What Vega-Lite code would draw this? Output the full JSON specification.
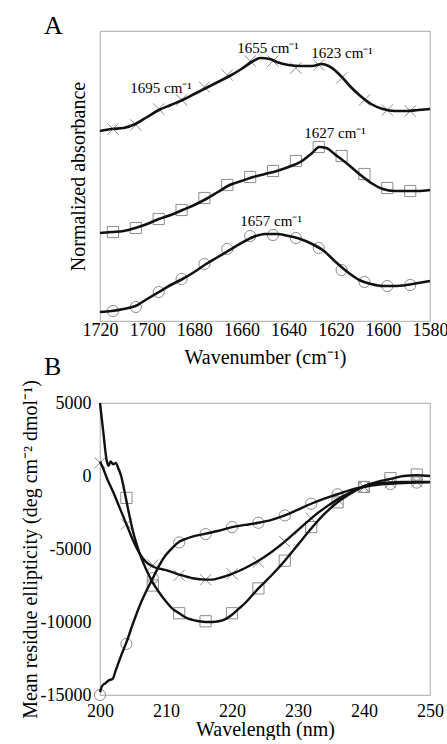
{
  "$schema": "https://vega.github.io/schema/vega-lite/v6.json",
  "padding": {"left": 19, "top": 12, "right": 0, "bottom": 0},
  "background": "white",
  "config": {
    "font": "Liberation Serif",
    "view": {"stroke": "#bbbbbb", "strokeWidth": 1.2},
    "axis": {"grid": false, "domain": false, "ticks": false, "tickSize": 0, "labelOverlap": false, "labelFlush": false, "labelBound": false, "labelFont": "Liberation Serif", "titleFont": "Liberation Serif", "labelFontSize": 18, "titleFontSize": 20, "titleFontWeight": "normal", "labelColor": "#000", "titleColor": "#000"},
    "title": {"font": "Liberation Serif", "fontSize": 26, "fontWeight": "normal", "anchor": "start", "frame": "group", "color": "#000", "baseline": "alphabetic"}
  },
  "bounds": "flush",
  "spacing": 82,
  "datasets": {
    "ftirLine": [
      {"s": "x", "wn": 1720, "a": 190}, {"s": "x", "wn": 1715, "a": 192}, {"s": "x", "wn": 1710, "a": 193}, {"s": "x", "wn": 1705, "a": 197}, {"s": "x", "wn": 1700, "a": 204}, {"s": "x", "wn": 1695, "a": 211}, {"s": "x", "wn": 1690, "a": 216}, {"s": "x", "wn": 1685, "a": 221}, {"s": "x", "wn": 1680, "a": 227}, {"s": "x", "wn": 1675, "a": 233}, {"s": "x", "wn": 1670, "a": 239}, {"s": "x", "wn": 1665, "a": 245}, {"s": "x", "wn": 1660, "a": 252}, {"s": "x", "wn": 1655, "a": 260}, {"s": "x", "wn": 1652, "a": 263}, {"s": "x", "wn": 1648, "a": 262}, {"s": "x", "wn": 1645, "a": 259}, {"s": "x", "wn": 1640, "a": 256}, {"s": "x", "wn": 1635, "a": 255}, {"s": "x", "wn": 1630, "a": 255}, {"s": "x", "wn": 1626, "a": 257}, {"s": "x", "wn": 1623, "a": 255}, {"s": "x", "wn": 1620, "a": 250}, {"s": "x", "wn": 1617, "a": 243}, {"s": "x", "wn": 1614, "a": 235}, {"s": "x", "wn": 1610, "a": 226}, {"s": "x", "wn": 1605, "a": 217}, {"s": "x", "wn": 1600, "a": 212}, {"s": "x", "wn": 1595, "a": 210}, {"s": "x", "wn": 1590, "a": 210}, {"s": "x", "wn": 1585, "a": 211}, {"s": "x", "wn": 1580, "a": 212},
      {"s": "sq", "wn": 1720, "a": 88}, {"s": "sq", "wn": 1715, "a": 89}, {"s": "sq", "wn": 1710, "a": 90}, {"s": "sq", "wn": 1705, "a": 93}, {"s": "sq", "wn": 1700, "a": 97}, {"s": "sq", "wn": 1695, "a": 102}, {"s": "sq", "wn": 1690, "a": 106}, {"s": "sq", "wn": 1685, "a": 111}, {"s": "sq", "wn": 1680, "a": 116}, {"s": "sq", "wn": 1675, "a": 122}, {"s": "sq", "wn": 1670, "a": 129}, {"s": "sq", "wn": 1665, "a": 136}, {"s": "sq", "wn": 1660, "a": 140}, {"s": "sq", "wn": 1655, "a": 144}, {"s": "sq", "wn": 1650, "a": 147}, {"s": "sq", "wn": 1645, "a": 150}, {"s": "sq", "wn": 1640, "a": 154}, {"s": "sq", "wn": 1635, "a": 159}, {"s": "sq", "wn": 1630, "a": 168}, {"s": "sq", "wn": 1627, "a": 174}, {"s": "sq", "wn": 1624, "a": 173}, {"s": "sq", "wn": 1620, "a": 166}, {"s": "sq", "wn": 1615, "a": 157}, {"s": "sq", "wn": 1610, "a": 147}, {"s": "sq", "wn": 1605, "a": 138}, {"s": "sq", "wn": 1600, "a": 132}, {"s": "sq", "wn": 1595, "a": 130}, {"s": "sq", "wn": 1590, "a": 130}, {"s": "sq", "wn": 1585, "a": 130}, {"s": "sq", "wn": 1580, "a": 131},
      {"s": "o", "wn": 1720, "a": 9}, {"s": "o", "wn": 1715, "a": 10}, {"s": "o", "wn": 1710, "a": 12}, {"s": "o", "wn": 1705, "a": 15}, {"s": "o", "wn": 1700, "a": 22}, {"s": "o", "wn": 1695, "a": 29}, {"s": "o", "wn": 1690, "a": 36}, {"s": "o", "wn": 1685, "a": 42}, {"s": "o", "wn": 1680, "a": 49}, {"s": "o", "wn": 1675, "a": 57}, {"s": "o", "wn": 1670, "a": 64}, {"s": "o", "wn": 1665, "a": 71}, {"s": "o", "wn": 1660, "a": 78}, {"s": "o", "wn": 1655, "a": 84}, {"s": "o", "wn": 1650, "a": 87}, {"s": "o", "wn": 1645, "a": 87}, {"s": "o", "wn": 1640, "a": 85}, {"s": "o", "wn": 1635, "a": 82}, {"s": "o", "wn": 1630, "a": 77}, {"s": "o", "wn": 1625, "a": 70}, {"s": "o", "wn": 1620, "a": 59}, {"s": "o", "wn": 1615, "a": 49}, {"s": "o", "wn": 1610, "a": 41}, {"s": "o", "wn": 1605, "a": 37}, {"s": "o", "wn": 1600, "a": 35}, {"s": "o", "wn": 1595, "a": 35}, {"s": "o", "wn": 1590, "a": 36}, {"s": "o", "wn": 1585, "a": 38}, {"s": "o", "wn": 1580, "a": 40}
    ],
    "ftirPts": [
      {"s": "x", "wn": 1714.5, "a": 192}, {"s": "x", "wn": 1704.8, "a": 196}, {"s": "x", "wn": 1695.1, "a": 212}, {"s": "x", "wn": 1685.4, "a": 221}, {"s": "x", "wn": 1675.7, "a": 234}, {"s": "x", "wn": 1666, "a": 246}, {"s": "x", "wn": 1656.3, "a": 260}, {"s": "x", "wn": 1646.6, "a": 260}, {"s": "x", "wn": 1636.9, "a": 253}, {"s": "x", "wn": 1627.2, "a": 256}, {"s": "x", "wn": 1617.5, "a": 243}, {"s": "x", "wn": 1607.8, "a": 221}, {"s": "x", "wn": 1598.1, "a": 211}, {"s": "x", "wn": 1588.4, "a": 210},
      {"s": "sq", "wn": 1714.5, "a": 89}, {"s": "sq", "wn": 1704.8, "a": 93}, {"s": "sq", "wn": 1695.1, "a": 102}, {"s": "sq", "wn": 1685.4, "a": 111}, {"s": "sq", "wn": 1675.7, "a": 123}, {"s": "sq", "wn": 1666, "a": 136}, {"s": "sq", "wn": 1656.3, "a": 144}, {"s": "sq", "wn": 1646.6, "a": 150}, {"s": "sq", "wn": 1636.9, "a": 160}, {"s": "sq", "wn": 1627.2, "a": 174}, {"s": "sq", "wn": 1617.5, "a": 165}, {"s": "sq", "wn": 1607.8, "a": 147}, {"s": "sq", "wn": 1598.1, "a": 133}, {"s": "sq", "wn": 1588.4, "a": 130},
      {"s": "o", "wn": 1714.5, "a": 10}, {"s": "o", "wn": 1704.8, "a": 14}, {"s": "o", "wn": 1695.1, "a": 29}, {"s": "o", "wn": 1685.4, "a": 42}, {"s": "o", "wn": 1675.7, "a": 57}, {"s": "o", "wn": 1666, "a": 72}, {"s": "o", "wn": 1656.3, "a": 85}, {"s": "o", "wn": 1646.6, "a": 86}, {"s": "o", "wn": 1636.9, "a": 83}, {"s": "o", "wn": 1627.2, "a": 73}, {"s": "o", "wn": 1617.5, "a": 51}, {"s": "o", "wn": 1607.8, "a": 39}, {"s": "o", "wn": 1598.1, "a": 35}, {"s": "o", "wn": 1588.4, "a": 36}
    ],
    "ftirLabels": [
      {"t": "1695 cm⁻¹", "wn": 1694.1, "a": 228},
      {"t": "1655 cm⁻¹", "wn": 1648.7, "a": 268},
      {"t": "1623 cm⁻¹", "wn": 1617.3, "a": 263},
      {"t": "1627 cm⁻¹", "wn": 1620.3, "a": 183},
      {"t": "1657 cm⁻¹", "wn": 1647.4, "a": 95}
    ],
    "cdLine": [
      {"s": "sq", "w": 200, "e": 5000}, {"s": "sq", "w": 200.5, "e": 3000}, {"s": "sq", "w": 201, "e": 1100}, {"s": "sq", "w": 201.3, "e": 700}, {"s": "sq", "w": 201.6, "e": 1000}, {"s": "sq", "w": 202, "e": 800}, {"s": "sq", "w": 202.4, "e": 900}, {"s": "sq", "w": 202.8, "e": 500}, {"s": "sq", "w": 203.2, "e": 0}, {"s": "sq", "w": 203.6, "e": -800}, {"s": "sq", "w": 204, "e": -1700}, {"s": "sq", "w": 204.5, "e": -2800}, {"s": "sq", "w": 205, "e": -3800}, {"s": "sq", "w": 205.5, "e": -4600}, {"s": "sq", "w": 206, "e": -5300}, {"s": "sq", "w": 207, "e": -6400}, {"s": "sq", "w": 208, "e": -7300}, {"s": "sq", "w": 209, "e": -8000}, {"s": "sq", "w": 210, "e": -8600}, {"s": "sq", "w": 211, "e": -9100}, {"s": "sq", "w": 212, "e": -9400}, {"s": "sq", "w": 213, "e": -9700}, {"s": "sq", "w": 214, "e": -9850}, {"s": "sq", "w": 215, "e": -9950}, {"s": "sq", "w": 216, "e": -10000}, {"s": "sq", "w": 217, "e": -10000}, {"s": "sq", "w": 218, "e": -9950}, {"s": "sq", "w": 219, "e": -9800}, {"s": "sq", "w": 220, "e": -9500}, {"s": "sq", "w": 221, "e": -9100}, {"s": "sq", "w": 222, "e": -8700}, {"s": "sq", "w": 223, "e": -8200}, {"s": "sq", "w": 224, "e": -7700}, {"s": "sq", "w": 226, "e": -6800}, {"s": "sq", "w": 228, "e": -5800}, {"s": "sq", "w": 230, "e": -4700}, {"s": "sq", "w": 232, "e": -3600}, {"s": "sq", "w": 234, "e": -2600}, {"s": "sq", "w": 236, "e": -1800}, {"s": "sq", "w": 238, "e": -1200}, {"s": "sq", "w": 240, "e": -700}, {"s": "sq", "w": 242, "e": -400}, {"s": "sq", "w": 244, "e": -200}, {"s": "sq", "w": 246, "e": 0}, {"s": "sq", "w": 248, "e": 50}, {"s": "sq", "w": 250, "e": 0},
      {"s": "x", "w": 200, "e": 1000}, {"s": "x", "w": 200.5, "e": 500}, {"s": "x", "w": 201, "e": -100}, {"s": "x", "w": 202, "e": -1100}, {"s": "x", "w": 203, "e": -2200}, {"s": "x", "w": 204, "e": -3300}, {"s": "x", "w": 205, "e": -4400}, {"s": "x", "w": 206, "e": -5300}, {"s": "x", "w": 207, "e": -5900}, {"s": "x", "w": 208, "e": -6200}, {"s": "x", "w": 209, "e": -6350}, {"s": "x", "w": 210, "e": -6450}, {"s": "x", "w": 212, "e": -6750}, {"s": "x", "w": 214, "e": -7000}, {"s": "x", "w": 216, "e": -7100}, {"s": "x", "w": 217, "e": -7100}, {"s": "x", "w": 218, "e": -7000}, {"s": "x", "w": 220, "e": -6700}, {"s": "x", "w": 222, "e": -6300}, {"s": "x", "w": 224, "e": -5800}, {"s": "x", "w": 226, "e": -5200}, {"s": "x", "w": 228, "e": -4500}, {"s": "x", "w": 230, "e": -3700}, {"s": "x", "w": 232, "e": -2900}, {"s": "x", "w": 234, "e": -2200}, {"s": "x", "w": 236, "e": -1600}, {"s": "x", "w": 238, "e": -1100}, {"s": "x", "w": 240, "e": -700}, {"s": "x", "w": 242, "e": -500}, {"s": "x", "w": 244, "e": -450}, {"s": "x", "w": 246, "e": -400}, {"s": "x", "w": 248, "e": -400}, {"s": "x", "w": 250, "e": -400},
      {"s": "o", "w": 200, "e": -14800}, {"s": "o", "w": 200.3, "e": -14400}, {"s": "o", "w": 200.8, "e": -14200}, {"s": "o", "w": 201.3, "e": -14000}, {"s": "o", "w": 201.9, "e": -13900}, {"s": "o", "w": 202.4, "e": -13300}, {"s": "o", "w": 203.2, "e": -12300}, {"s": "o", "w": 204, "e": -11400}, {"s": "o", "w": 205, "e": -10100}, {"s": "o", "w": 206, "e": -8900}, {"s": "o", "w": 207, "e": -7900}, {"s": "o", "w": 208, "e": -7000}, {"s": "o", "w": 209, "e": -6100}, {"s": "o", "w": 210, "e": -5400}, {"s": "o", "w": 211, "e": -4900}, {"s": "o", "w": 212, "e": -4500}, {"s": "o", "w": 213, "e": -4300}, {"s": "o", "w": 214, "e": -4150}, {"s": "o", "w": 216, "e": -3950}, {"s": "o", "w": 218, "e": -3750}, {"s": "o", "w": 220, "e": -3500}, {"s": "o", "w": 222, "e": -3350}, {"s": "o", "w": 224, "e": -3200}, {"s": "o", "w": 226, "e": -3000}, {"s": "o", "w": 228, "e": -2700}, {"s": "o", "w": 230, "e": -2300}, {"s": "o", "w": 232, "e": -1900}, {"s": "o", "w": 234, "e": -1550}, {"s": "o", "w": 236, "e": -1250}, {"s": "o", "w": 238, "e": -950}, {"s": "o", "w": 240, "e": -750}, {"s": "o", "w": 242, "e": -600}, {"s": "o", "w": 244, "e": -530}, {"s": "o", "w": 246, "e": -480}, {"s": "o", "w": 248, "e": -450}, {"s": "o", "w": 250, "e": -430}
    ],
    "cdPts": [
      {"s": "x", "w": 200, "e": 900}, {"s": "x", "w": 204, "e": -3300}, {"s": "x", "w": 208, "e": -6100}, {"s": "x", "w": 212, "e": -6800}, {"s": "x", "w": 216, "e": -7100}, {"s": "x", "w": 220, "e": -6700}, {"s": "x", "w": 224, "e": -5900}, {"s": "x", "w": 228, "e": -4500}, {"s": "x", "w": 232, "e": -2900}, {"s": "x", "w": 236, "e": -1600}, {"s": "x", "w": 240, "e": -750}, {"s": "x", "w": 244, "e": -450}, {"s": "x", "w": 248, "e": -400},
      {"s": "sq", "w": 204, "e": -1500}, {"s": "sq", "w": 208, "e": -7500}, {"s": "sq", "w": 212, "e": -9400}, {"s": "sq", "w": 216, "e": -9950}, {"s": "sq", "w": 220, "e": -9400}, {"s": "sq", "w": 224, "e": -7700}, {"s": "sq", "w": 228, "e": -5800}, {"s": "sq", "w": 232, "e": -3500}, {"s": "sq", "w": 236, "e": -1800}, {"s": "sq", "w": 240, "e": -750}, {"s": "sq", "w": 244, "e": -150}, {"s": "sq", "w": 248, "e": 100},
      {"s": "o", "w": 200, "e": -15000}, {"s": "o", "w": 204, "e": -11500}, {"s": "o", "w": 208, "e": -7000}, {"s": "o", "w": 212, "e": -4550}, {"s": "o", "w": 216, "e": -3980}, {"s": "o", "w": 220, "e": -3500}, {"s": "o", "w": 224, "e": -3200}, {"s": "o", "w": 228, "e": -2700}, {"s": "o", "w": 232, "e": -1900}, {"s": "o", "w": 236, "e": -1250}, {"s": "o", "w": 240, "e": -750}, {"s": "o", "w": 244, "e": -550}, {"s": "o", "w": 248, "e": -450}
    ]
  },
  "vconcat": [
    {
      "width": 330,
      "height": 290,
      "title": {"text": "A", "dx": -56, "offset": -8, "fontSize": 26, "font": "Liberation Serif", "fontWeight": "normal"},
      "layer": [
        {
          "data": {"name": "ftirPts"},
          "mark": {"type": "point", "filled": false, "stroke": "#8c8c8c", "strokeWidth": 1, "size": 125, "opacity": 1},
          "encoding": {
            "x": {"field": "wn", "type": "quantitative", "scale": {"domain": [1580, 1720], "reverse": true, "nice": false}, "axis": {"values": [1720, 1700, 1680, 1660, 1640, 1620, 1600, 1580], "format": "d", "title": "Wavenumber (cm⁻¹)", "labelBaseline": "alphabetic", "labelPadding": 14, "titleBaseline": "alphabetic", "titleY": 42}},
            "y": {"field": "a", "type": "quantitative", "scale": {"domain": [0, 290], "nice": false}, "axis": {"labels": false, "title": "Normalized absorbance", "titleBaseline": "alphabetic", "titleX": -16}},
            "shape": {"field": "s", "type": "nominal", "legend": null, "scale": {"domain": ["x", "sq", "o"], "range": ["M-1,-1L1,1M1,-1L-1,1", "square", "circle"]}}
          }
        },
        {
          "data": {"name": "ftirLine"},
          "mark": {"type": "line", "interpolate": "monotone", "color": "#111", "strokeWidth": 2.6},
          "encoding": {
            "x": {"field": "wn", "type": "quantitative"},
            "y": {"field": "a", "type": "quantitative"},
            "detail": {"field": "s"}
          }
        },
        {
          "data": {"name": "ftirLabels"},
          "mark": {"type": "text", "fontSize": 15, "baseline": "alphabetic", "align": "center", "color": "#000", "font": "Liberation Serif"},
          "encoding": {
            "x": {"field": "wn", "type": "quantitative"},
            "y": {"field": "a", "type": "quantitative"},
            "text": {"field": "t"}
          }
        }
      ]
    },
    {
      "width": 330,
      "height": 292,
      "title": {"text": "B", "dx": -56, "offset": 0, "fontSize": 26, "font": "Liberation Serif", "fontWeight": "normal"},
      "layer": [
        {
          "data": {"name": "cdPts"},
          "mark": {"type": "point", "filled": false, "stroke": "#8c8c8c", "strokeWidth": 1, "size": 125, "opacity": 1},
          "encoding": {
            "x": {"field": "w", "type": "quantitative", "scale": {"domain": [200, 250], "nice": false}, "axis": {"values": [200, 210, 220, 230, 240, 250], "title": "Wavelength (nm)", "labelBaseline": "alphabetic", "labelPadding": 21, "titleBaseline": "alphabetic", "titleY": 40}},
            "y": {"field": "e", "type": "quantitative", "scale": {"domain": [-15000, 5000], "nice": false}, "axis": {"values": [-15000, -10000, -5000, 0, 5000], "labelExpr": "'' + datum.value", "labelPadding": 9, "title": "Mean residue ellipticity (deg cm⁻² dmol⁻¹)", "titleBaseline": "alphabetic", "titleX": -64}},
            "shape": {"field": "s", "type": "nominal", "legend": null, "scale": {"domain": ["x", "sq", "o"], "range": ["M-1,-1L1,1M1,-1L-1,1", "square", "circle"]}}
          }
        },
        {
          "data": {"name": "cdLine"},
          "mark": {"type": "line", "interpolate": "monotone", "color": "#111", "strokeWidth": 2.4},
          "encoding": {
            "x": {"field": "w", "type": "quantitative"},
            "y": {"field": "e", "type": "quantitative"},
            "detail": {"field": "s"}
          }
        }
      ]
    }
  ]
}
